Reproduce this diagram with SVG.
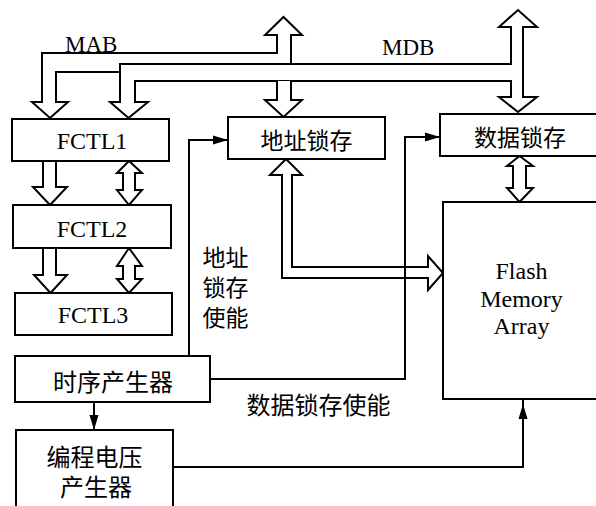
<svg xmlns="http://www.w3.org/2000/svg" width="596" height="506" viewBox="0 0 596 506">
<defs>
<style>
.box{fill:#fff;stroke:#000;stroke-width:2}
.pipe{fill:#fff;stroke:#000;stroke-width:2;stroke-linejoin:miter}
.wire{fill:none;stroke:#000;stroke-width:2}
.lat{font-family:"Liberation Serif","Times New Roman",serif;font-size:24px;fill:#000}
.cjk{font-family:"Noto Sans CJK SC","Noto Sans CJK JP",sans-serif;font-size:23px;fill:#000}
</style>
<marker id="ah" markerUnits="userSpaceOnUse" markerWidth="16" markerHeight="10" refX="15" refY="5" orient="auto">
<path d="M0,0.5 L15,5 L0,9.5 Z" fill="#000"/>
</marker>
</defs>
<rect width="596" height="506" fill="#fff"/>

<g id="connectors">
<!-- MAB bus -->
<path class="pipe" d="M42,102 L42,53 L277,53 L277,35 L265,35 L283.5,17 L302,35 L291,35 L291,64 L120,64 L120,72 L56,72 L56,102 L68,102 L50,118 L32,102 Z"/>
<!-- MDB bus -->
<path class="pipe" d="M110,102 L120,102 L120,64 L511,64 L511,27 L499,27 L518,10 L537,27 L523,27 L523,97 L537,97 L518,112 L499,97 L511,97 L511,81 L135,81 L135,102 L148,102 L128.5,118 Z"/>
<!-- MAB down to address latch -->
<path class="pipe" d="M277,81 L277,100 L265,100 L283.5,117 L302,100 L291,100 L291,81"/>
<!-- FCTL1 -> FCTL2 -->
<path class="pipe" d="M43,161 L43,187 L33,187 L50,205 L67,187 L56,187 L56,161"/>
<path class="pipe" d="M129,161 L142,173 L135,173 L135,190 L142,190 L129,205 L117,190 L123,190 L123,173 L117,173 Z"/>
<!-- FCTL2 -> FCTL3 -->
<path class="pipe" d="M43,248 L43,275 L34,275 L50.5,293 L67,275 L56,275 L56,248"/>
<path class="pipe" d="M129,248 L142,266 L135,266 L135,279 L142,279 L129,293 L117,279 L123,279 L123,266 L117,266 Z"/>
<!-- data latch <-> flash -->
<path class="pipe" d="M519.5,156 L533,166 L526,166 L526,188 L533,188 L519.5,202 L507,188 L513,188 L513,166 L507,166 Z"/>
<!-- address latch -> flash -->
<path class="pipe" d="M286,159 L302,175 L292,175 L292,267 L428,267 L428,256 L443,273 L428,290 L428,278 L282,278 L282,175 L270,175 Z"/>
<!-- address latch enable -->
<path class="wire" d="M189,356 L189,140 L228,140" marker-end="url(#ah)"/>
<!-- data latch enable -->
<path class="wire" d="M210,379 L405,379 L405,137 L440,137" marker-end="url(#ah)"/>
<!-- timing -> program voltage -->
<path class="wire" d="M94,402 L94,430" marker-end="url(#ah)"/>
<!-- program voltage -> flash -->
<path class="wire" d="M173,467 L523,467 L523,399"/>
<path class="wire" d="M523,425 L523,404" marker-end="url(#ah)"/>
</g>

<g id="label-MAB"><text class="lat" x="65" y="52" style="font-size:23px">MAB</text></g>
<g id="label-MDB"><text class="lat" x="382" y="55" style="font-size:23px">MDB</text></g>

<g id="FCTL1">
<rect class="box" x="12" y="119" width="157" height="42"/>
<text class="lat" x="92" y="149" text-anchor="middle">FCTL1</text>
</g>
<g id="FCTL2">
<rect class="box" x="13" y="205" width="158" height="43"/>
<text class="lat" x="92" y="237" text-anchor="middle">FCTL2</text>
</g>
<g id="FCTL3">
<rect class="box" x="15" y="293" width="157" height="42"/>
<text class="lat" x="93" y="323" text-anchor="middle">FCTL3</text>
</g>
<g id="addr-latch">
<rect class="box" x="228" y="117" width="157" height="42"/>
<text class="cjk" x="306.5" y="149" text-anchor="middle">地址锁存</text>
</g>
<g id="data-latch">
<rect class="box" x="440" y="114" width="162" height="42"/>
<text class="cjk" x="520" y="146" text-anchor="middle">数据锁存</text>
</g>
<g id="flash">
<rect class="box" x="443" y="202" width="160" height="197"/>
<text class="lat" x="521.5" y="279" text-anchor="middle">Flash</text>
<text class="lat" x="521.5" y="307" text-anchor="middle">Memory</text>
<text class="lat" x="521.5" y="334" text-anchor="middle">Array</text>
</g>
<g id="timing-gen">
<rect class="box" x="15" y="356" width="195" height="46"/>
<text class="cjk" x="113" y="391" text-anchor="middle" style="font-size:24px">时序产生器</text>
</g>
<g id="prog-voltage">
<rect class="box" x="16" y="430" width="157" height="84"/>
<text class="cjk" x="94.5" y="466" text-anchor="middle" style="font-size:24px">编程电压</text>
<text class="cjk" x="96" y="496" text-anchor="middle" style="font-size:24px">产生器</text>
</g>
<g id="label-addr-enable">
<text class="cjk" x="225.5" y="266" text-anchor="middle">地址</text>
<text class="cjk" x="225.5" y="296" text-anchor="middle">锁存</text>
<text class="cjk" x="225.5" y="326" text-anchor="middle">使能</text>
</g>
<g id="label-data-enable">
<text class="cjk" x="318.5" y="414" text-anchor="middle" style="font-size:24px">数据锁存使能</text>
</g>
</svg>
